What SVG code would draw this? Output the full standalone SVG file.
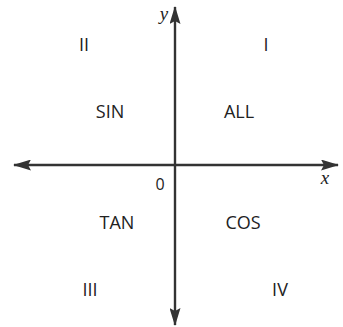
<svg xmlns="http://www.w3.org/2000/svg" width="343" height="327" viewBox="0 0 343 327">
<style>
.ax{stroke:#333;stroke-width:2.4;fill:none}
.lbl{font-family:"Open Sans","Liberation Sans",sans-serif;font-size:18px;fill:#222;text-anchor:middle}
.var{font-family:"Liberation Serif",serif;font-style:italic;font-size:19px;fill:#222;text-anchor:middle}
</style>
<defs>
<marker id="ah" viewBox="0 0 18 11" refX="17" refY="5.5" markerWidth="18" markerHeight="11" markerUnits="userSpaceOnUse" orient="auto">
<path d="M0,0 L18,5.5 L0,11 L3,5.5 Z" fill="#333"/>
</marker>
</defs>
<g id="connectors">
<line class="ax" x1="175" y1="165" x2="175" y2="7" marker-end="url(#ah)"/>
<line class="ax" x1="175" y1="165" x2="175" y2="325" marker-end="url(#ah)"/>
<line class="ax" x1="175" y1="165" x2="14" y2="165" marker-end="url(#ah)"/>
<line class="ax" x1="175" y1="165" x2="338" y2="165" marker-end="url(#ah)"/>
</g>
<g id="axis-labels">
<text class="var" x="164" y="20">y</text>
<text class="var" x="325" y="184">x</text>
<text class="lbl" x="160" y="190" style="font-size:16px">0</text>
</g>
<g id="q1"><text class="lbl" x="266" y="51">I</text><text class="lbl" x="239" y="118">ALL</text></g>
<g id="q2"><text class="lbl" x="84" y="51">II</text><text class="lbl" x="110" y="118">SIN</text></g>
<g id="q3"><text class="lbl" x="90" y="296">III</text><text class="lbl" x="117" y="229">TAN</text></g>
<g id="q4"><text class="lbl" x="280" y="296">IV</text><text class="lbl" x="243" y="229">COS</text></g>
</svg>
